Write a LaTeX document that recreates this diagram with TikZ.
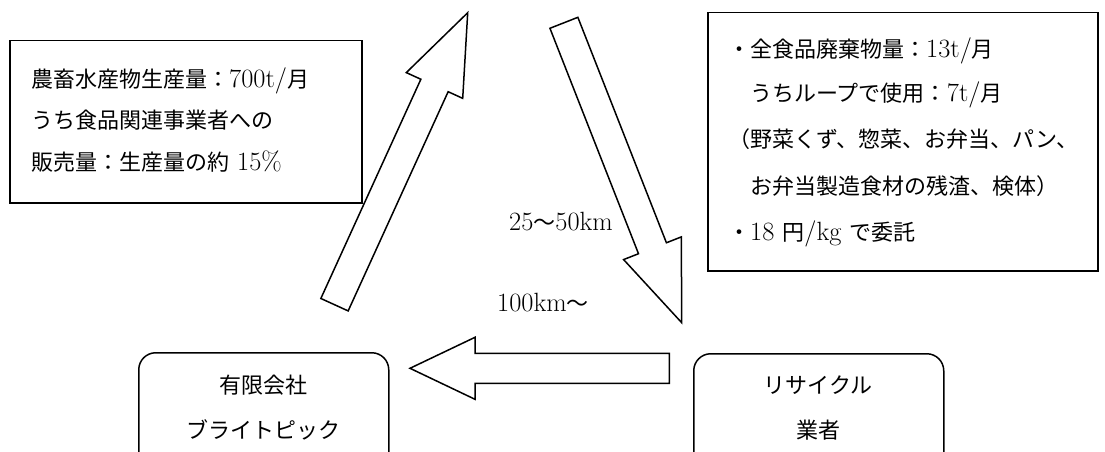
\documentclass[tikz,border=0pt]{standalone}
\usepackage{fontspec}
\setmainfont{Latin Modern Roman}[Scale=1.2]
\newfontfamily\jp{Noto Sans CJK JP}
\usetikzlibrary{calc}
\newcommand\blockarrow[6]{%
  \coordinate (#1h) at ($(#3)!#5!(#2)$);
  \draw[blk] ($(#2)!#4!90:(#3)$) -- ($(#1h)!#4!90:(#3)$) -- ($(#1h)!#6!90:(#3)$) -- (#3)
    -- ($(#1h)!#6!-90:(#3)$) -- ($(#1h)!#4!-90:(#3)$) -- ($(#2)!#4!-90:(#3)$) -- cycle;}
\begin{document}
\begin{tikzpicture}[x=1pt,y=-1pt,
  frame/.style={draw,line width=1.5pt,inner sep=0pt},
  rbox/.style={draw,line width=1.5pt,inner sep=0pt,rounded corners=17pt},
  txt/.style={anchor=base west,inner sep=0pt,font=\fontsize{22}{26}\selectfont},
  ctxt/.style={anchor=base,inner sep=0pt,font=\fontsize{22}{26}\selectfont},
  blk/.style={draw,line width=1.5pt,fill=white,line join=miter}]
\useasboundingbox (0,0) rectangle (1105,452);
\clip (0,0) rectangle (1105,452);
\fill[white] (0,0) rectangle (1105,452);

% left info box
\node[frame,anchor=north west,minimum width=352pt,minimum height=162pt] (lbox) at (9,40) {};
\node[txt] (l1) at (31,87) {{\jp 農畜水産物生産量：}700t/{\jp 月}};
\node[txt] (l2) at (31,128) {{\jp うち食品関連事業者への}};
\node[txt] (l3) at (31,170) {{\jp 販売量：生産量の約} 15\%};

% right info box
\node[frame,anchor=north west,minimum width=390pt,minimum height=258pt] (rbox) at (707,12) {};
\node[txt] (r1) at (728,58) {{\jp ・全食品廃棄物量：}13t/{\jp 月}};
\node[txt] (r2) at (728,101) {{\jp 　うちループで使用：}7t/{\jp 月}};
\node[txt] (r3) at (728,147) {{\jp （野菜くず、惣菜、お弁当、パン、}};
\node[txt] (r4) at (728,194) {{\jp 　お弁当製造食材の残渣、検体）}};
\node[txt] (r5) at (728,240) {{\jp ・}18 {\jp 円}/kg {\jp で委託}};

% rounded boxes (cut at bottom)
\node[rbox,anchor=north west,minimum width=250pt,minimum height=140pt] (farm) at (138,352) {};
\node[ctxt] (farm1) at (263,393) {{\jp 有限会社}};
\node[ctxt] (farm2) at (263,438) {{\jp ブライトピック}};
\node[rbox,anchor=north west,minimum width=250pt,minimum height=140pt] (rec) at (693,353) {};
\node[ctxt] (rec1) at (818,393) {{\jp リサイクル}};
\node[ctxt] (rec2) at (818,438) {{\jp 業者}};

% block arrows
\coordinate (ua1) at (334.5,304.7);
\coordinate (ua2) at (467.7,12.7);
\blockarrow{ua}{ua1}{ua2}{15pt}{80pt}{31pt}
\coordinate (da1) at (563.9,22.8);
\coordinate (da2) at (681.7,322.7);
\blockarrow{da}{da1}{da2}{15pt}{80pt}{31pt}
\coordinate (la1) at (669.3,368.3);
\coordinate (la2) at (410,368.3);
\blockarrow{la}{la1}{la2}{15pt}{65pt}{31pt}

% distance labels
\node[txt] (d1) at (509,230) {25{\jp 〜}50km};
\node[txt] (d2) at (497,311) {100km{\jp 〜}};
\end{tikzpicture}
\end{document}
